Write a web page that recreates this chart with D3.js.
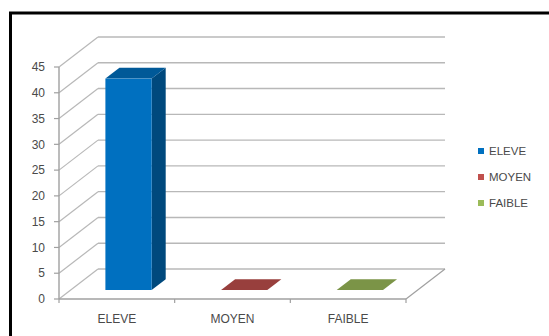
<!DOCTYPE html>
<html>
<head>
<meta charset="utf-8">
<script src="https://cdn.jsdelivr.net/npm/d3@7"></script>
<style>
  html, body { margin: 0; padding: 0; background: #fff; }
  svg { display: block; }
  text { font-family: "Liberation Sans", Arial, sans-serif; fill: #4a4a4a; }
</style>
</head>
<body>
<script>
// Effectifs par niveau
const categories = ["ELEVE", "MOYEN", "FAIBLE"];
const values = [41, 0, 0];
const seriesColors = ["#0070C0", "#C0504D", "#9BBB59"];
const yTicks = [0, 5, 10, 15, 20, 25, 30, 35, 40, 45];

const W = 549, H = 336;
const svg = d3.select("body").append("svg").attr("width", W).attr("height", H);

// Outer frame (extends past the bottom/right edges)
svg.append("rect")
  .attr("x", 10.5).attr("y", 13).attr("width", 560).attr("height", 340)
  .attr("fill", "#fff").attr("stroke", "#000").attr("stroke-width", 3);

// Front plane of the 3D box and its depth offset
const x0 = 59, x1 = 406;
const y = d3.scaleLinear().domain([0, 45]).range([299, 67]);
const depth = { dx: 39, dy: -30 };
const xCat = d3.scaleBand().domain(categories).range([x0, x1]).padding(0);
const xBar = d3.scaleBand().domain(categories).range([x0, x1])
  .paddingInner(0.6).paddingOuter(0.3);
const d0 = 0.3, d1 = 0.66; // bar position inside the depth

const grid = "#B8B8B8";
const axisCol = "#A0A0A0";

// Back wall gridlines
svg.append("g").selectAll("line").data(yTicks).join("line")
  .attr("x1", x0 + depth.dx).attr("x2", x1 + depth.dx)
  .attr("y1", d => y(d) + depth.dy).attr("y2", d => y(d) + depth.dy)
  .attr("stroke", grid).attr("stroke-width", 1.4);

// Side wall diagonals
svg.append("g").selectAll("line").data(yTicks).join("line")
  .attr("x1", x0).attr("y1", d => y(d))
  .attr("x2", x0 + depth.dx).attr("y2", d => y(d) + depth.dy)
  .attr("stroke", grid).attr("stroke-width", 1.2);

// Floor: front edge and right edge
svg.append("line")
  .attr("x1", x0).attr("x2", x1).attr("y1", y(0)).attr("y2", y(0))
  .attr("stroke", axisCol).attr("stroke-width", 1.4);
svg.append("line")
  .attr("x1", x1).attr("y1", y(0))
  .attr("x2", x1 + depth.dx).attr("y2", y(0) + depth.dy)
  .attr("stroke", axisCol).attr("stroke-width", 1.2);

// Category tick marks
const boundaries = categories.map(c => xCat(c)).concat([x1]);
svg.append("g").selectAll("line").data(boundaries).join("line")
  .attr("x1", d => d).attr("x2", d => d)
  .attr("y1", y(0)).attr("y2", y(0) + 4)
  .attr("stroke", axisCol).attr("stroke-width", 1.2);

// Bars
const bars = svg.append("g");
categories.forEach((c, i) => {
  const v = values[i];
  const col = d3.color(seriesColors[i]);
  const bx0 = xBar(c) + depth.dx * d0;
  const bx1 = bx0 + xBar.bandwidth();
  const yb = y(0) + depth.dy * d0;
  const yt = y(v) + depth.dy * d0;
  const ddx = depth.dx * (d1 - d0), ddy = depth.dy * (d1 - d0);
  const poly = pts => pts.map(p => p.join(",")).join(" ");
  // side face
  bars.append("polygon")
    .attr("points", poly([[bx1, yt], [bx1 + ddx, yt + ddy], [bx1 + ddx, yb + ddy], [bx1, yb]]))
    .attr("fill", col.darker(1.2).formatHex());
  // top face
  bars.append("polygon")
    .attr("points", poly([[bx0, yt], [bx0 + ddx, yt + ddy], [bx1 + ddx, yt + ddy], [bx1, yt]]))
    .attr("fill", col.darker(0.65).formatHex());
  // front face
  if (v > 0) {
    bars.append("rect")
      .attr("x", bx0).attr("y", yt).attr("width", bx1 - bx0).attr("height", yb - yt)
      .attr("fill", col.formatHex());
  }
});

// Value axis
svg.append("line")
  .attr("x1", x0).attr("x2", x0).attr("y1", y(45)).attr("y2", y(0))
  .attr("stroke", axisCol).attr("stroke-width", 1.4);
svg.append("g").selectAll("line").data(yTicks).join("line")
  .attr("x1", x0 - 5).attr("x2", x0).attr("y1", d => y(d)).attr("y2", d => y(d))
  .attr("stroke", axisCol).attr("stroke-width", 1.2);
svg.append("g").selectAll("text").data(yTicks).join("text")
  .attr("x", 45).attr("y", d => y(d)).attr("dy", "0.35em")
  .attr("text-anchor", "end").attr("font-size", 12)
  .text(d => d);

// Category labels
svg.append("g").selectAll("text").data(categories).join("text")
  .attr("x", d => xCat(d) + xCat.bandwidth() / 2).attr("y", 323)
  .attr("text-anchor", "middle").attr("font-size", 12)
  .text(d => d);

// Legend
const legend = svg.append("g").attr("transform", "translate(478,151)");
const li = legend.selectAll("g").data(categories).join("g")
  .attr("transform", (d, i) => `translate(0,${i * 26})`);
li.append("rect").attr("x", 0).attr("y", -3).attr("width", 6).attr("height", 6)
  .attr("fill", (d, i) => seriesColors[i]);
li.append("text").attr("x", 11).attr("y", 0).attr("dy", "0.35em")
  .attr("font-size", 11.5).text(d => d);
</script>
</body>
</html>
